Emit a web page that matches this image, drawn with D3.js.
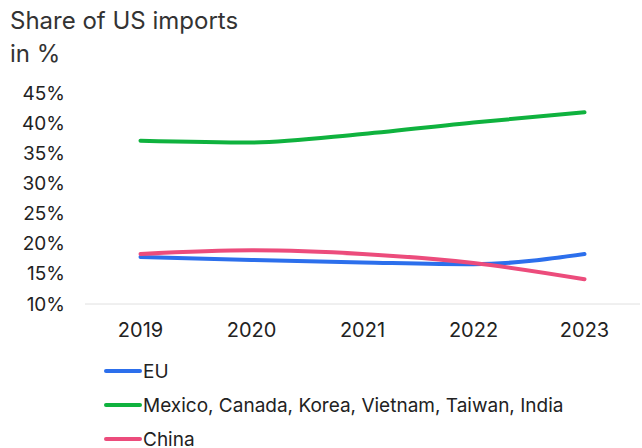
<!DOCTYPE html>
<html>
<head>
<meta charset="utf-8">
<script src="https://cdn.jsdelivr.net/npm/d3@7"></script>
<style>
  body { margin: 0; background: #fff; }
  svg { font-family: Inter, "Noto Sans", sans-serif; }
</style>
</head>
<body>
<svg id="chart" width="642" height="448"></svg>
<script>
// Data
const years = ["2019", "2020", "2021", "2022", "2023"];
const euValues = [17.8, 17.3, 16.9, 16.6, 18.3];
const groupValues = [37.1, 36.8, 38.2, 40.1, 41.8];
const chinaValues = [18.3, 18.9, 18.3, 16.8, 14.1];
const seriesNames = ["EU", "Mexico, Canada, Korea, Vietnam, Taiwan, India", "China"];
const seriesColors = ["#2c6fec", "#0fb23e", "#ec4c7c"];
const yTicks = [10, 15, 20, 25, 30, 35, 40, 45];

const series = [euValues, groupValues, chinaValues].map((values, i) => ({
    name: seriesNames[i],
    color: seriesColors[i],
    values: values
}));

const svg = d3.select("#chart");

// Title
svg.append("text")
   .attr("x", 10).attr("y", 29)
   .attr("font-size", 24).attr("fill", "#333")
   .text("Share of US imports");
svg.append("text")
   .attr("x", 10).attr("y", 62)
   .attr("font-size", 24).attr("fill", "#333")
   .text("in %");

const x = d3.scaleBand()
            .domain(years)
            .range([85, 640]);

const y = d3.scaleLinear()
            .domain([10, 45])
            .range([304, 93]);

// Y axis labels (no line)
const yAxis = svg.append("g")
                 .attr("transform", "translate(65,0)")
                 .call(d3.axisLeft(y).tickValues(yTicks).tickFormat(d => d + "%").tickSize(0));
yAxis.select(".domain").remove();
yAxis.selectAll("text")
     .attr("font-size", 19).attr("fill", "#222")
     .attr("font-family", "Inter, sans-serif")
     .attr("x", 0);

// Baseline
svg.append("line")
   .attr("x1", 85).attr("x2", 640)
   .attr("y1", y(10)).attr("y2", y(10))
   .attr("stroke", "#e0e0e0").attr("stroke-width", 1);

// X axis labels
const xAxis = svg.append("g")
                 .attr("transform", `translate(0,${y(10)})`)
                 .call(d3.axisBottom(x).tickSize(0));
xAxis.select(".domain").remove();
xAxis.selectAll("text")
     .attr("font-size", 20).attr("fill", "#222")
     .attr("font-family", "Inter, sans-serif")
     .attr("dy", null)
     .attr("y", 33);

// Lines
const line = d3.line()
               .x((d, i) => x(years[i]) + x.bandwidth() / 2)
               .y(d => y(d))
               .curve(d3.curveMonotoneX);

svg.selectAll(".series")
   .data(series)
   .enter().append("path")
   .attr("class", "series")
   .attr("d", d => line(d.values))
   .attr("fill", "none")
   .attr("stroke", d => d.color)
   .attr("stroke-width", 4)
   .attr("stroke-linecap", "round")
   .attr("stroke-linejoin", "round");

// Legend
const legend = svg.selectAll(".legend")
                  .data(series)
                  .enter().append("g")
                  .attr("class", "legend")
                  .attr("transform", (d, i) => `translate(106,${371 + i * 34})`);

legend.append("line")
      .attr("x1", 0).attr("x2", 34)
      .attr("stroke", d => d.color)
      .attr("stroke-width", 4)
      .attr("stroke-linecap", "round");

legend.append("text")
      .attr("x", 37).attr("y", 6.5)
      .attr("font-size", 19).attr("fill", "#222")
      .text(d => d.name);
</script>
</body>
</html>
